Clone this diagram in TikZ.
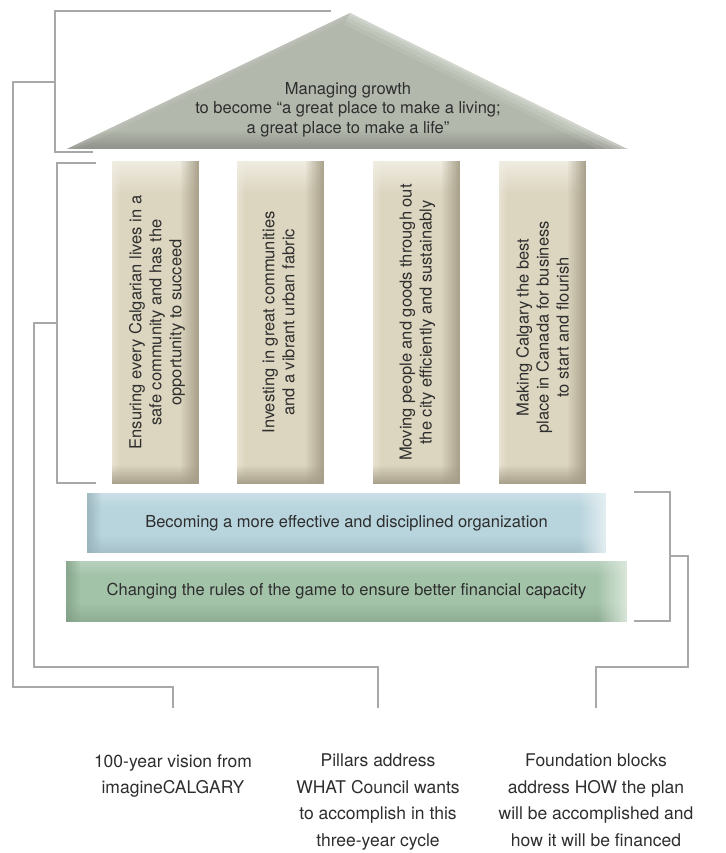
\documentclass[tikz,border=0pt]{standalone}
\usepackage{fontspec}
\setmainfont{TeX Gyre Heros}

\definecolor{ink}{HTML}{2E2E2E}
\definecolor{rulegray}{HTML}{A8A8A8}
\definecolor{roofmid}{HTML}{B3B8AD}
\definecolor{roofdark}{HTML}{8C8F87}
\definecolor{roofhi}{HTML}{E8EAE4}
\definecolor{pilmid}{HTML}{DCD5BF}
\definecolor{pilhi}{HTML}{F1EEE4}
\definecolor{pildark}{HTML}{A59D87}
\definecolor{bluemid}{HTML}{B8D4DD}
\definecolor{bluedark}{HTML}{97B1BA}
\definecolor{bluehi}{HTML}{E6F0F3}
\definecolor{greenmid}{HTML}{A3C3A9}
\definecolor{greendark}{HTML}{82A087}
\definecolor{greenhi}{HTML}{DDE9DE}

% Soft edge bands for a node's path picture: colour, peak opacity,
% number of strips, strip thickness (pt). Opacity falls off inwards.
\newcommand\edgeN[4]{\foreach \i in {1,...,#3}{%
  \pgfmathsetmacro\gbo{#2*(1-(\i-1)/#3)}%
  \pgfmathsetmacro\gba{-(\i-1)*#4}\pgfmathsetmacro\gbb{-\i*#4}%
  \fill[#1, opacity=\gbo] ([yshift=\gba pt]path picture bounding box.north west)
    rectangle ([yshift=\gbb pt]path picture bounding box.north east);}}
\newcommand\edgeS[4]{\foreach \i in {1,...,#3}{%
  \pgfmathsetmacro\gbo{#2*(1-(\i-1)/#3)}%
  \pgfmathsetmacro\gba{(\i-1)*#4}\pgfmathsetmacro\gbb{\i*#4}%
  \fill[#1, opacity=\gbo] ([yshift=\gba pt]path picture bounding box.south west)
    rectangle ([yshift=\gbb pt]path picture bounding box.south east);}}
\newcommand\edgeE[4]{\foreach \i in {1,...,#3}{%
  \pgfmathsetmacro\gbo{#2*(1-(\i-1)/#3)}%
  \pgfmathsetmacro\gba{-(\i-1)*#4}\pgfmathsetmacro\gbb{-\i*#4}%
  \fill[#1, opacity=\gbo] ([xshift=\gba pt]path picture bounding box.south east)
    rectangle ([xshift=\gbb pt]path picture bounding box.north east);}}
\newcommand\edgeW[4]{\foreach \i in {1,...,#3}{%
  \pgfmathsetmacro\gbo{#2*(1-(\i-1)/#3)}%
  \pgfmathsetmacro\gba{(\i-1)*#4}\pgfmathsetmacro\gbb{\i*#4}%
  \fill[#1, opacity=\gbo] ([xshift=\gba pt]path picture bounding box.south west)
    rectangle ([xshift=\gbb pt]path picture bounding box.north west);}}

\tikzset{
  leader/.style={draw=rulegray, line width=1.5pt},
  pillarbox/.style={fill=pilmid, minimum width=87pt, minimum height=323pt,
    inner sep=0pt, outer sep=0pt,
    path picture={
      \edgeN{pilhi}{0.9}{16}{2}
      \edgeW{pilhi}{0.5}{4}{2}
      \edgeE{pildark}{0.9}{9}{2}
      \edgeS{pildark}{0.9}{9}{2}
    }},
  pillartext/.style={rotate=90, align=center, text=ink, inner sep=0pt,
    font=\fontsize{16.5}{20}\selectfont},
  barbox/.style={minimum height=60pt, inner sep=0pt, outer sep=0pt, text=ink,
    font=\fontsize{16.5}{20}\selectfont},
  bluebar/.style={barbox, fill=bluemid, minimum width=519pt,
    path picture={
      \edgeN{bluehi}{0.4}{7}{2}
      \edgeS{bluedark}{0.5}{8}{2}
      \edgeW{bluedark}{0.8}{7}{2}
      \edgeE{bluehi}{0.9}{13}{2}
    }},
  greenbar/.style={barbox, fill=greenmid, minimum width=561pt, minimum height=61pt,
    path picture={
      \edgeN{greenhi}{0.35}{7}{2}
      \edgeS{greendark}{0.6}{9}{2}
      \edgeW{greendark}{0.8}{7}{2}
      \edgeE{greenhi}{0.9}{14}{2}
    }},
  rooftext/.style={align=center, text=ink, inner sep=0pt,
    font=\fontsize{16.5}{19.5}\selectfont},
  caption/.style={align=center, text=ink, inner xsep=0pt, inner ysep=23pt,
    anchor=north, font=\fontsize{17.5}{26.4}\selectfont},
}

\begin{document}
\begin{tikzpicture}[x=1pt, y=-1pt]
  \useasboundingbox (0,0) rectangle (725,853);

  % roof
  \coordinate (roofT) at (350,13);
  \coordinate (roofL) at (67,149);
  \coordinate (roofR) at (627,149);
  \begin{scope}
    \clip (roofL) -- (roofT) -- (roofR) -- cycle;
    \fill[roofmid] (roofL) -- (roofT) -- (roofR) -- cycle;
    \foreach \i in {1,...,9}{%
      \pgfmathsetmacro\gbo{0.85*\i/9}%
      \fill[roofdark, opacity=\gbo] (60,{131+2*(\i-1)}) rectangle (640,{131+2*\i});}
    \foreach \w/\o in {26/0.12, 18/0.16, 10/0.22, 4/0.3}
      \draw[roofhi, line width=\w pt, opacity=\o] (roofT) -- (roofR);
    \foreach \w/\o in {10/0.08, 4/0.12}
      \draw[roofhi, line width=\w pt, opacity=\o] (roofT) -- (roofL);
  \end{scope}
  \node[rooftext, anchor=north] (vision) at (348,82)
    {Managing growth\\to become “a great place to make a living;\\a great place to make a life”};

  % pillars
  \node[pillarbox] (p1) at (155.5,322.5) {};
  \node[pillarbox] (p2) at (280.5,322.5) {};
  \node[pillarbox] (p3) at (416.5,322.5) {};
  \node[pillarbox] (p4) at (542.5,322.5) {};
  \node[pillartext] (t1) at ([xshift=1.5pt]p1.center)
    {Ensuring every Calgarian lives in a\\safe community and has the\\opportunity to succeed};
  \node[pillartext] (t2) at ([xshift=-2pt]p2.center)
    {Investing in great communities\\and a vibrant urban fabric};
  \node[pillartext] (t3) at ([xshift=1pt]p3.center)
    {Moving people and goods through out\\the city efficiently and sustainably};
  \node[pillartext] (t4) at ([yshift=-5pt]p4.center)
    {Making Calgary the best\\place in Canada for business\\to start and flourish};

  % foundation blocks
  \node[bluebar] (org) at (346.5,523) {Becoming a more effective and disciplined organization};
  \node[greenbar] (fin) at (346.5,591.5) {Changing the rules of the game to ensure better financial capacity};

  % captions
  \node[caption] (cap1) at (173,731) {100-year vision from\\imagineCALGARY};
  \node[caption] (cap2) at (378,731) {Pillars address\\WHAT Council wants\\to accomplish in this\\three-year cycle};
  \node[caption] (cap3) at (596,731) {Foundation blocks\\address HOW the plan\\will be accomplished and\\how it will be financed};

  % brackets
  \draw[leader] (331,11) -- (55,11) -- (55,152) -- (93,152);
  \coordinate (roofB) at (55,82);
  \draw[leader] (96,163) -- (57,163) -- (57,483) -- (96,483);
  \coordinate (pilB) at (57,323);
  \draw[leader] (634,492) -- (670,492) -- (670,621) -- (634,621);
  \coordinate (baseB) at (670,556);

  % leaders to captions
  \draw[leader] (roofB) -| (13,687) -| ([yshift=23pt]cap1.north);
  \draw[leader] (pilB) -| (34,667) -| ([yshift=23pt]cap2.north);
  \draw[leader] (baseB) -| (688,667) -| ([yshift=23pt]cap3.north);
\end{tikzpicture}
\end{document}
